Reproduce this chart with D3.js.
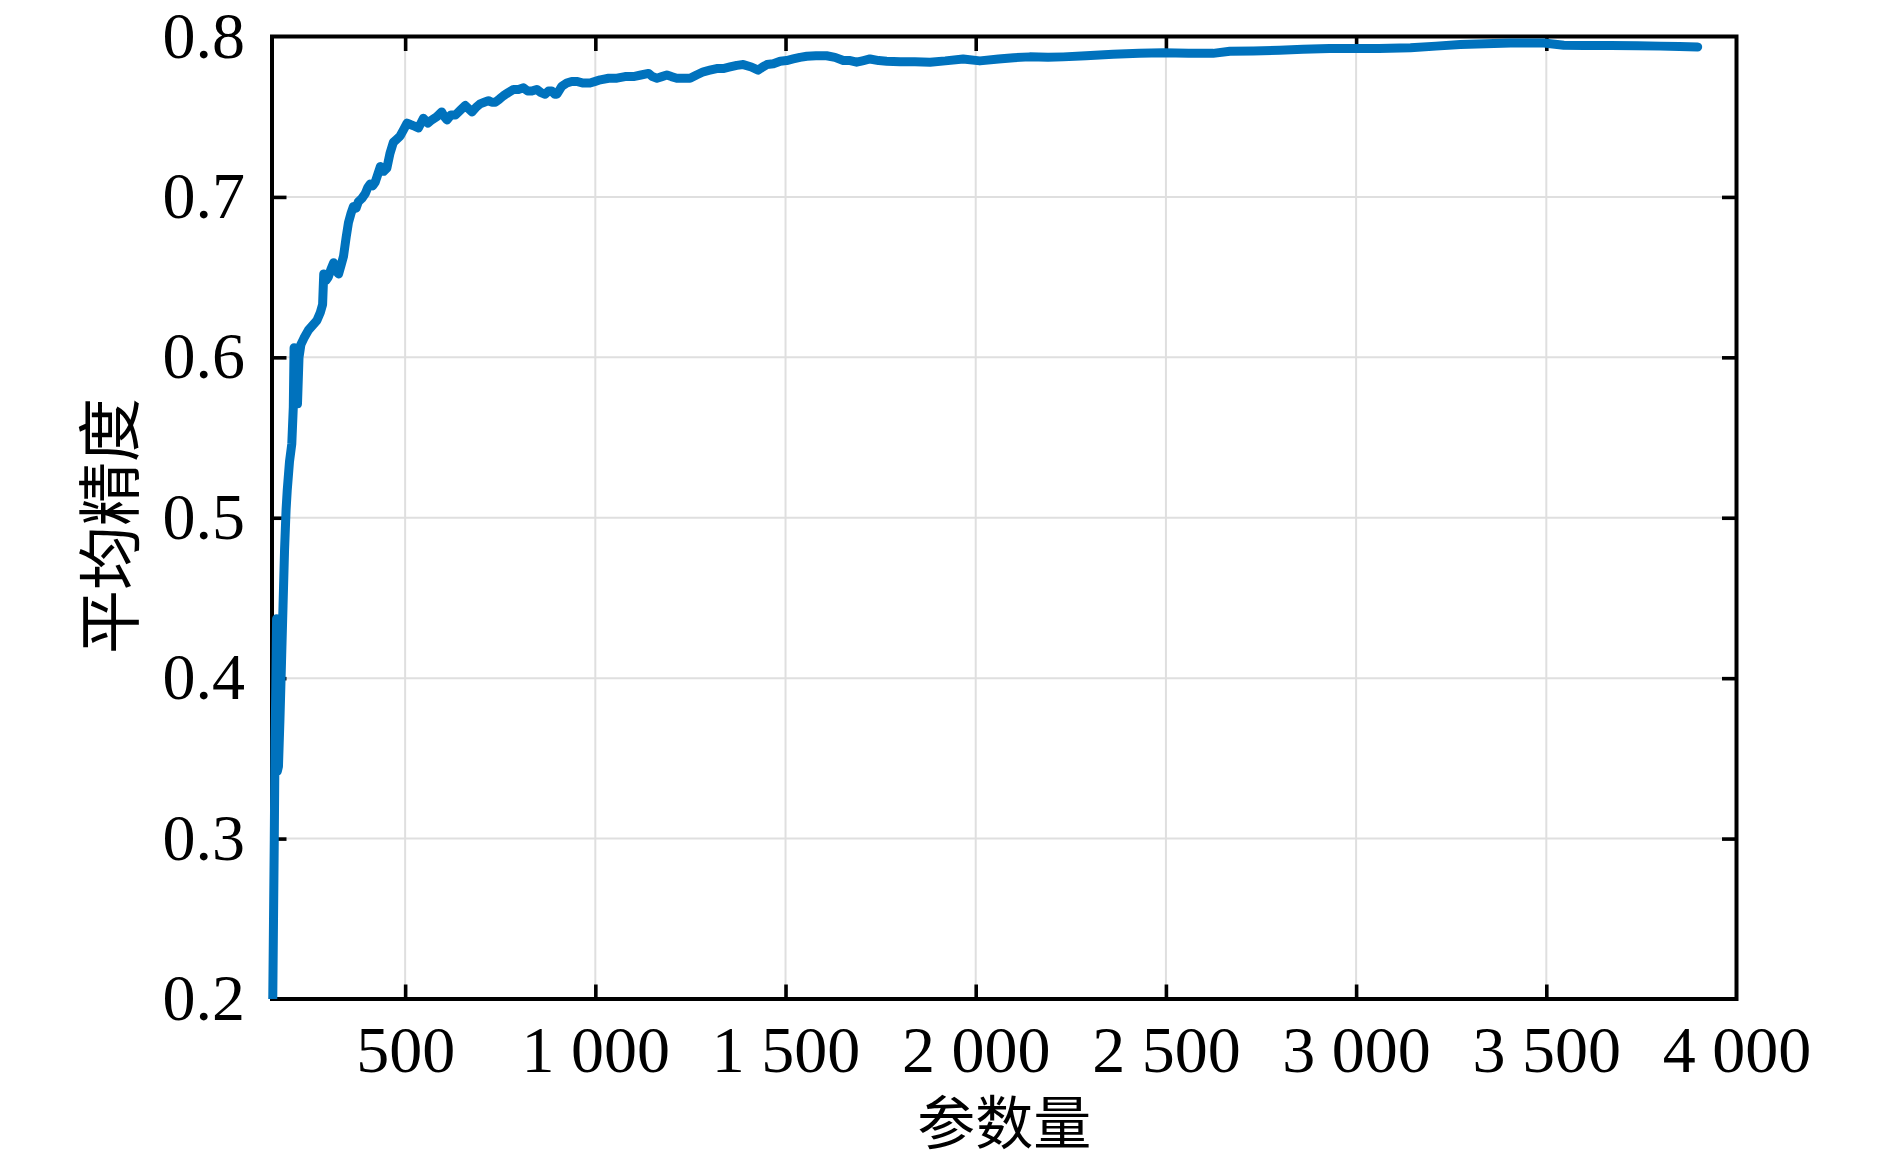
<!DOCTYPE html>
<html>
<head>
<meta charset="utf-8">
<script src="https://cdn.jsdelivr.net/npm/d3@7/dist/d3.min.js"></script>
<style>
  html, body { margin: 0; padding: 0; background: #ffffff; }
  svg { display: block; }
</style>
</head>
<body>
<svg id="chart" width="1890" height="1159"></svg>
<script>
// ---- data ----
const xValues = [152,154,156,157,158,160,161,162,163,164,167,171,175,179,183,187,190,196,202,206,208,211,214,217,221,226,234,246,257,268,277,283,286,292,298,305,312,318,325,331,338,345,351,358,364,371,377,386,395,402,408,415,421,428,435,444,452,460,469,478,487,496,505,515,526,535,548,560,570,583,596,603,610,620,632,645,658,667,676,687,697,708,719,728,737,748,758,771,785,798,811,822,833,846,857,868,877,886,893,899,912,925,938,951,968,986,1000,1013,1035,1057,1078,1100,1120,1140,1150,1162,1175,1188,1200,1214,1231,1249,1266,1284,1301,1319,1336,1354,1372,1389,1410,1428,1440,1451,1468,1486,1503,1520,1538,1556,1580,1608,1630,1652,1670,1687,1705,1722,1745,1766,1801,1840,1880,1920,1967,2011,2060,2100,2142,2190,2230,2290,2361,2430,2493,2560,2624,2668,2730,2799,2860,2930,3000,3060,3143,3210,3274,3340,3406,3450,3494,3546,3600,3669,3740,3800,3850,3898];
const yValues = [0.200,0.250,0.300,0.330,0.360,0.395,0.415,0.437,0.420,0.342,0.345,0.375,0.410,0.445,0.480,0.505,0.517,0.535,0.546,0.569,0.606,0.572,0.605,0.571,0.600,0.608,0.612,0.617,0.620,0.623,0.628,0.633,0.652,0.648,0.650,0.655,0.659,0.654,0.652,0.657,0.663,0.675,0.684,0.690,0.694,0.693,0.697,0.699,0.702,0.706,0.708,0.707,0.709,0.714,0.719,0.716,0.718,0.727,0.734,0.736,0.738,0.742,0.746,0.745,0.744,0.743,0.749,0.746,0.748,0.750,0.753,0.750,0.748,0.751,0.751,0.754,0.757,0.755,0.753,0.756,0.758,0.759,0.760,0.759,0.759,0.761,0.763,0.765,0.767,0.767,0.768,0.766,0.766,0.767,0.765,0.764,0.766,0.766,0.764,0.764,0.769,0.771,0.772,0.772,0.771,0.771,0.772,0.773,0.774,0.774,0.775,0.775,0.776,0.777,0.775,0.774,0.775,0.776,0.775,0.774,0.774,0.774,0.776,0.778,0.779,0.780,0.780,0.781,0.782,0.7825,0.781,0.779,0.781,0.7825,0.783,0.7846,0.785,0.786,0.787,0.7877,0.788,0.788,0.787,0.785,0.785,0.784,0.785,0.786,0.785,0.7846,0.7842,0.7842,0.784,0.7848,0.786,0.7848,0.786,0.7868,0.7873,0.787,0.7873,0.788,0.789,0.7895,0.7898,0.7895,0.7895,0.7908,0.791,0.7914,0.792,0.7925,0.7925,0.7925,0.793,0.794,0.795,0.7955,0.796,0.796,0.796,0.7945,0.7944,0.7944,0.7942,0.794,0.7938,0.7935];

const xTicks = [500,1000,1500,2000,2500,3000,3500,4000];
const xTickLabels = ["500","1 000","1 500","2 000","2 500","3 000","3 500","4 000"];
const yTicks = [0.2,0.3,0.4,0.5,0.6,0.7,0.8];
const yTickLabels = ["0.2","0.3","0.4","0.5","0.6","0.7","0.8"];
const xTitle = "参数量";
const yTitle = "平均精度";

// ---- layout ----
const L = 272, R = 1736.5, T = 36.5, B = 999;
const svg = d3.select("#chart");
const x = d3.scaleLinear().domain([150, 4000]).range([L, R]);
const y = d3.scaleLinear().domain([0.2, 0.8]).range([B, T]);

const serif = "'Liberation Serif', 'DejaVu Serif', serif";
const cjk = "'Noto Sans CJK SC', 'Noto Sans CJK JP', sans-serif";
const tickLen = 14.5;

// grid
const grid = svg.append("g");
grid.selectAll("line.gx").data(xTicks.filter(d => d < 4000)).enter().append("line")
  .attr("x1", d => x(d)).attr("x2", d => x(d)).attr("y1", T).attr("y2", B)
  .attr("stroke", "#dfdfdf").attr("stroke-width", 2);
grid.selectAll("line.gy").data(yTicks.filter(d => d > 0.2 && d < 0.8)).enter().append("line")
  .attr("x1", L).attr("x2", R).attr("y1", d => y(d)).attr("y2", d => y(d))
  .attr("stroke", "#dfdfdf").attr("stroke-width", 2);

// axes
function styleAxis(g) {
  g.select(".domain").remove();
  g.selectAll(".tick line").attr("stroke", "#000").attr("stroke-width", 3.6);
}
const xLabelMap = new Map(xTicks.map((d, i) => [d, xTickLabels[i]]));
const yLabelMap = new Map(yTicks.map((d, i) => [d, yTickLabels[i]]));

const gxB = svg.append("g").attr("transform", `translate(0,${B})`)
  .call(d3.axisBottom(x).tickValues(xTicks).tickSizeInner(-tickLen).tickSizeOuter(0)
    .tickFormat(d => xLabelMap.get(d)));
styleAxis(gxB);
gxB.selectAll(".tick text").attr("dy", null).attr("y", 72.5)
  .attr("font-family", serif).attr("font-size", 66).attr("fill", "#000");
gxB.selectAll(".tick").filter(d => d === 4000).select("line").remove();

const gxT = svg.append("g").attr("transform", `translate(0,${T})`)
  .call(d3.axisTop(x).tickValues(xTicks.filter(d => d < 4000)).tickSizeInner(-tickLen).tickSizeOuter(0).tickFormat(""));
styleAxis(gxT);

const gyL = svg.append("g").attr("transform", `translate(${L},0)`)
  .call(d3.axisLeft(y).tickValues(yTicks).tickSizeInner(-tickLen).tickSizeOuter(0)
    .tickFormat(d => yLabelMap.get(d)));
styleAxis(gyL);
gyL.selectAll(".tick text").attr("dy", null).attr("y", 20.5).attr("x", -27)
  .attr("font-family", serif).attr("font-size", 66).attr("fill", "#000");
gyL.selectAll(".tick").filter(d => d === 0.2 || d === 0.8).select("line").remove();

const gyR = svg.append("g").attr("transform", `translate(${R},0)`)
  .call(d3.axisRight(y).tickValues(yTicks.filter(d => d > 0.2 && d < 0.8)).tickSizeInner(-tickLen).tickSizeOuter(0).tickFormat(""));
styleAxis(gyR);

// box
svg.append("rect").attr("x", L).attr("y", T).attr("width", R - L).attr("height", B - T)
  .attr("fill", "none").attr("stroke", "#000").attr("stroke-width", 4);

// data line
svg.append("clipPath").attr("id", "clip").append("rect")
  .attr("x", L - 6).attr("y", T - 6).attr("width", R - L + 6).attr("height", B - T + 6);
const pts = xValues.map((d, i) => [d, yValues[i]]);
svg.append("path").datum(pts)
  .attr("clip-path", "url(#clip)")
  .attr("d", d3.line().x(d => x(d[0])).y(d => y(d[1])))
  .attr("fill", "none").attr("stroke", "#0072BD").attr("stroke-width", 9)
  .attr("stroke-linejoin", "round").attr("stroke-linecap", "round");

// titles
svg.append("text").attr("x", (L + R) / 2).attr("y", 1119)
  .attr("text-anchor", "middle").attr("dominant-baseline", "central")
  .attr("font-family", cjk).attr("font-size", 58).attr("fill", "#000").text(xTitle);
svg.append("text").attr("transform", "translate(105,526) rotate(-90)")
  .attr("text-anchor", "middle").attr("dominant-baseline", "central")
  .attr("font-family", cjk).attr("font-size", 64).attr("fill", "#000").text(yTitle);
</script>
</body>
</html>
